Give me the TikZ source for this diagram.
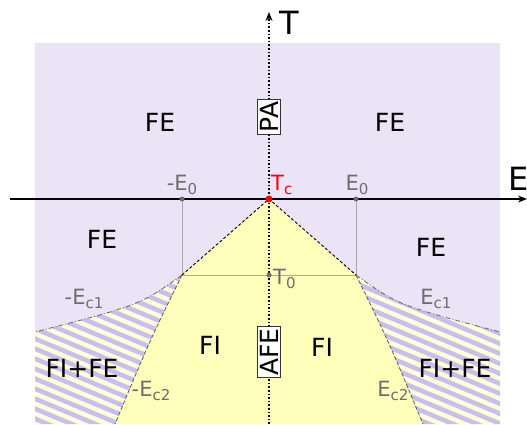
\documentclass[tikz,border=0pt]{standalone}
\usepackage{fontspec}
\setmainfont{DejaVu Sans}
\usepackage{xcolor}
\usepackage{tikz}
\usetikzlibrary{arrows.meta,calc,positioning}
\definecolor{fephase}{HTML}{EAE4F6}
\definecolor{fiphase}{HTML}{FFFFBB}
\definecolor{stripelav}{HTML}{C8BFEF}
\definecolor{stripecream}{HTML}{FFFFD8}
\definecolor{markgrey}{HTML}{6E6E6E}
\definecolor{guidegrey}{HTML}{A8A8A8}
\definecolor{tcred}{HTML}{FF0000}
\newcommand{\idx}[1]{\raisebox{-4pt}{\fontsize{15}{15}\selectfont #1}}
\tikzset{
  region label/.style = {font=\fontsize{25}{30}\selectfont, inner sep=0pt},
  axis label/.style   = {font=\fontsize{32}{36}\selectfont, inner sep=0pt},
  mark label/.style   = {font=\fontsize{21}{24}\selectfont, text=markgrey, inner sep=1pt},
  phase box/.style    = {region label, draw=black!80, fill=white, rotate=90,
                         inner sep=2pt, line width=0.8pt},
  guide/.style        = {guidegrey, line width=0.6pt},
  tc line/.style      = {black, line width=0.9pt, dash pattern=on 3pt off 2pt},
  ec2 line/.style     = {black!65, line width=0.8pt, dash pattern=on 4pt off 2pt},
  ec1 line/.style     = {black!60, line width=0.8pt, dash pattern=on 5pt off 2pt on 1pt off 2pt},
  stripe/.style       = {stripelav, line width=4.6pt},
  mark dot/.style     = {circle, fill=markgrey, inner sep=0pt, minimum size=5pt},
}

\begin{document}
\begin{tikzpicture}[x=1pt, y=1pt]
    \useasboundingbox (0,0) rectangle (527,424);
    % key points of the diagram
    \coordinate (Tc)  at (269,225);
    \coordinate (mE0) at (182,225);
    \coordinate (pE0) at (356,225);
    \coordinate (T0)  at (269,149);
    \coordinate (cl)  at (182,149);
    \coordinate (cr)  at (356,149);
    \coordinate (bl)  at (115,0);
    \coordinate (br)  at (423,0);
    \coordinate (el)  at (35,92);
    \coordinate (er)  at (500,92);

    % phases
    \fill[fephase] (35,0) rectangle (500,381);
    \fill[fiphase] (Tc) -- (cl) .. controls (150,84) .. (bl) -- (br)
      .. controls (388,84) .. (cr) -- cycle;
    \begin{scope}
      \clip (cl) .. controls (140,119) .. (el) -- (35,0) -- (bl)
        .. controls (150,84) .. (cl) -- cycle;
      \fill[stripecream] (0,0) rectangle (527,200);
      \foreach \k in {0,...,45}
        \draw[stripe] (0,\k*10) -- ++(527,-221);
    \end{scope}
    \begin{scope}
      \clip (cr) .. controls (398,119) .. (er) -- (500,0) -- (br)
        .. controls (388,84) .. (cr) -- cycle;
      \fill[stripecream] (0,0) rectangle (527,200);
      \foreach \k in {0,...,45}
        \draw[stripe] (0,\k*10) -- ++(527,-221);
    \end{scope}

    % guides and boundaries
    \draw[guide] (mE0) -- (cl) -- (cr) -- (pE0);
    \draw[tc line] (cl) -- (Tc) -- (cr);
    \draw[ec2 line] (cl) .. controls (150,84) .. (bl);
    \draw[ec2 line] (cr) .. controls (388,84) .. (br);
    \draw[ec1 line] (cl) .. controls (140,119) .. (el);
    \draw[ec1 line] (cr) .. controls (398,119) .. (er);

    % axes
    \coordinate (xs) at (10,225);
    \coordinate (xe) at (527,225);
    \coordinate (ys) at (269,0);
    \coordinate (ye) at (269,412);
    \draw[line width=1.3pt, -{Stealth[length=9pt,width=7pt]}] (xs) -- (xe);
    \draw[line width=1.6pt, dotted, -{Stealth[length=9pt,width=7pt]}] (ys) -- (ye);
    \node[axis label, anchor=west] (Tlab) at (279,401) {T};
    \node[axis label, anchor=west] (Elab) at (508,245) {E};

    \node[phase box] (pa)  at (269,307) {PA};
    \node[phase box] (afe) at (269,72)  {AFE};

    % points
    \node[mark dot] (mE0dot) at (mE0) {};
    \node[mark dot] (pE0dot) at (pE0) {};
    \node[mark dot] (T0dot)  at (T0)  {};
    \node[circle, fill=tcred, inner sep=0pt, minimum size=7pt] (Tcdot) at (Tc) {};

    \node[mark label, anchor=south] (mE0lab) at (182,228) {-E\idx{0}};
    \node[mark label, anchor=south] (pE0lab) at (357,228) {E\idx{0}};
    \node[mark label, text=tcred, anchor=south west] (Tclab) at (270,228) {T\idx{c}};
    \node[mark label, anchor=west] (T0lab) at (272,145) {T\idx{0}};
    \node[mark label] (mEc1lab) at (84,125) {-E\idx{c1}};
    \node[mark label] (pEc1lab) at (436,125) {E\idx{c1}};
    \node[mark label] (mEc2lab) at (151,33) {-E\idx{c2}};
    \node[mark label] (pEc2lab) at (393,33) {E\idx{c2}};

    % phase names
    \node[region label] (fe1) at (160,302) {FE};
    \node[region label] (fe2) at (390,302) {FE};
    \node[region label] (fe3) at (102,185) {FE};
    \node[region label] (fe4) at (431,177) {FE};
    \node[region label] (fi1) at (210,79)  {FI};
    \node[region label] (fi2) at (322,77)  {FI};
    \node[region label] (mix1) at (82,56)  {FI+FE};
    \node[region label] (mix2) at (455,56) {FI+FE};
  \end{tikzpicture}
\end{document}
